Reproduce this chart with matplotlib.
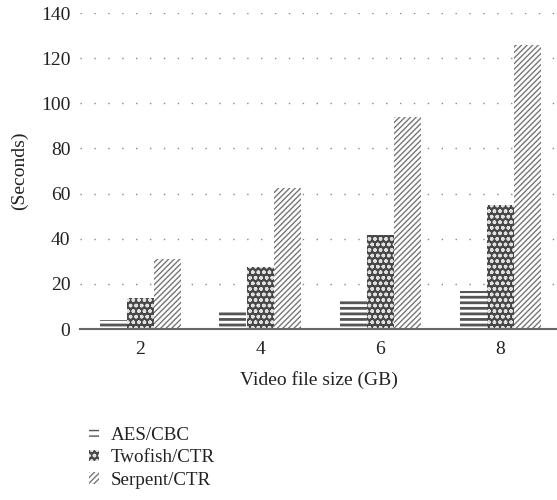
import matplotlib
matplotlib.use("Agg")
import matplotlib.pyplot as plt
import numpy as np

sizes = [2, 4, 6, 8]
aes_cbc = [3.8, 7.6, 13, 17]
twofish_ctr = [13.7, 27.5, 41.5, 55]
serpent_ctr = [31.2, 62.5, 94, 126]
labels = ["AES/CBC", "Twofish/CTR", "Serpent/CTR"]

plt.rcParams['font.family'] = ['Liberation Serif', 'DejaVu Serif']
plt.rcParams['hatch.linewidth'] = 1.0

fig = plt.figure(figsize=(5.57, 5.0), dpi=100)
ax = fig.add_axes([80 / 557, 171 / 500, 477 / 557, 316 / 500])

x = np.array(sizes, dtype=float)
w = 0.45
b1 = ax.bar(x - w, aes_cbc, w, facecolor='white', edgecolor='#555555',
            hatch='---', linewidth=0, label=labels[0])
b2 = ax.bar(x, twofish_ctr, w, facecolor='#474747', edgecolor='#e0e0e0',
            hatch='ooo', linewidth=0, label=labels[1])
b3 = ax.bar(x + w, serpent_ctr, w, facecolor='white', edgecolor='#777777',
            hatch='//////', linewidth=0, label=labels[2])

for p in b1.patches:
    if hasattr(p, 'set_hatch_linewidth'):
        p.set_hatch_linewidth(2.0)

ax.set_xlim(1, 1 + 477 / 60)
ax.set_ylim(0, 140)
ax.set_yticks(range(0, 141, 20))
ax.set_xticks(sizes)
ax.yaxis.grid(True, linestyle=(0, (1, 9)), color='#888888', linewidth=1.0)
ax.set_axisbelow(True)
for s in ['top', 'right', 'left']:
    ax.spines[s].set_visible(False)
ax.spines['bottom'].set_color('#666666')
ax.spines['bottom'].set_linewidth(1.5)
ax.tick_params(axis='y', length=0, labelsize=14, colors='#222222', pad=7)
ax.tick_params(axis='x', length=0, labelsize=14, colors='#222222', pad=9)
ax.set_xlabel("Video file size (GB)", fontsize=14, color='#222222', labelpad=9)
ax.set_ylabel("(Seconds)", fontsize=14, color='#222222', labelpad=9)

fig.legend(handles=[b1, b2, b3], labels=labels, loc='upper left',
           bbox_to_anchor=(0.159, 0.147), frameon=False, fontsize=13.7,
           handlelength=0.55, handleheight=0.55, handletextpad=0.6,
           labelspacing=0.3, borderaxespad=0, borderpad=0,
           labelcolor='#222222')

fig.savefig("out.png", dpi=100)
